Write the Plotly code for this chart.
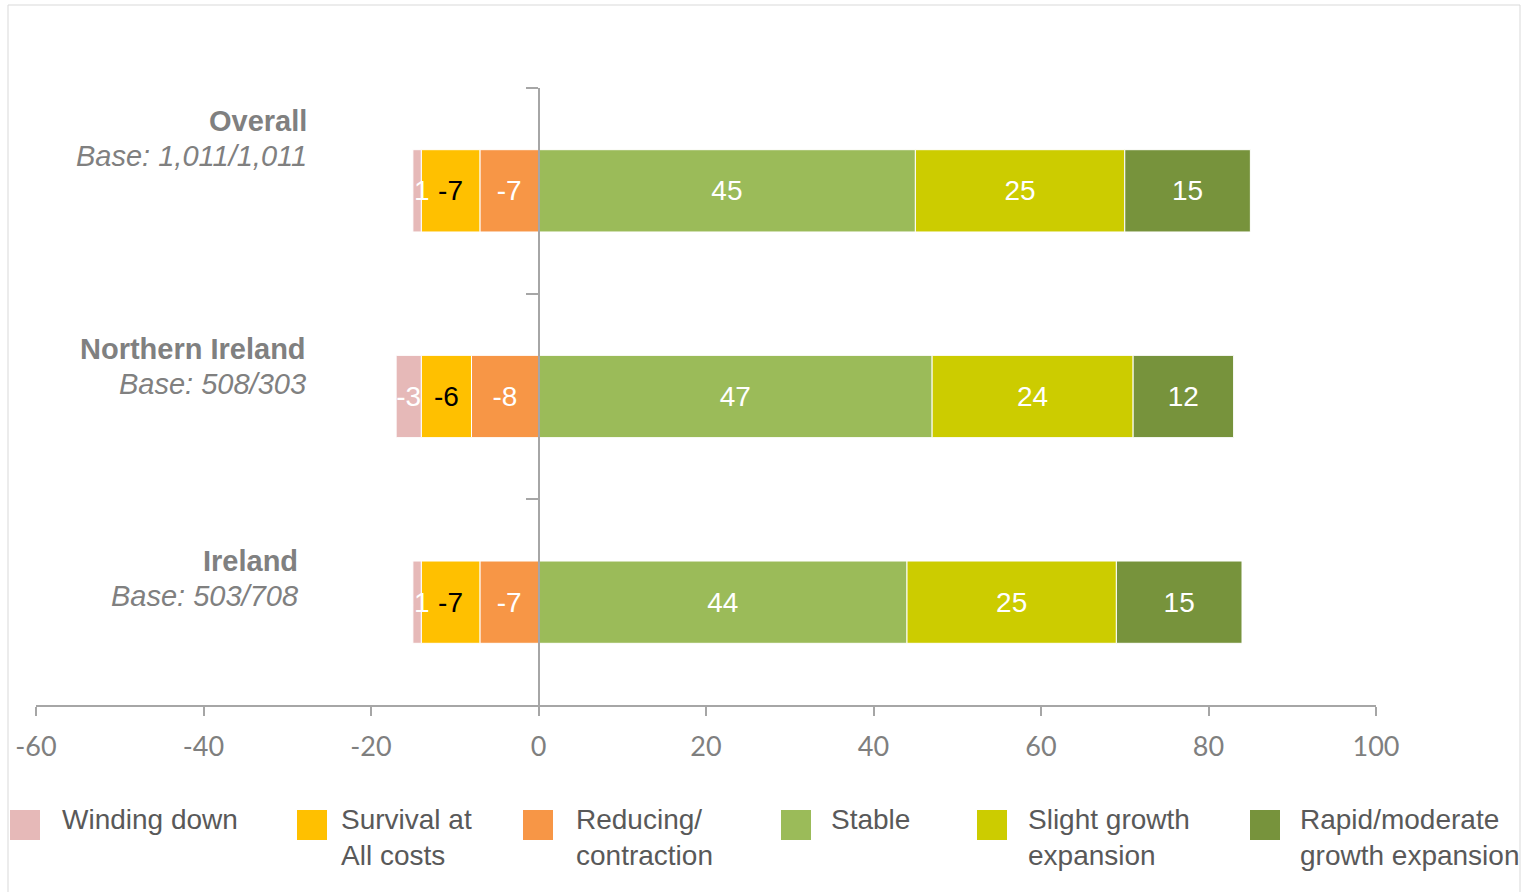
import plotly.graph_objects as go

# ---------------- data ----------------
categories = ["Overall", "Northern Ireland", "Ireland"]
bases = ["Base: 1,011/1,011", "Base: 508/303", "Base: 503/708"]

series_names = ["Winding down", "Survival at<br>All costs", "Reducing/<br>contraction",
                "Stable", "Slight growth<br>expansion", "Rapid/moderate<br>growth expansion"]
series_colors = ["#E6B9B8", "#FFC000", "#F79646", "#9BBB59", "#CCCC00", "#77933C"]
label_colors = ["white", "black", "white", "white", "white", "white"]

winding_down = [-1, -3, -1]
survival = [-7, -6, -7]
reducing = [-7, -8, -7]
stable = [45, 47, 44]
slight_growth = [25, 24, 25]
rapid_growth = [15, 12, 15]

series_values = [winding_down, survival, reducing, stable, slight_growth, rapid_growth]

x_ticks = [-60, -40, -20, 0, 20, 40, 60, 80, 100]

# ---------------- layout geometry (pixels) ----------------
W, H = 1521, 892
L, R, T, B = 36, 1376, 88, 705
PW, PH = R - L, B - T


def px_x(p):
    return (p - L) / PW


def px_y(p):
    return (B - p) / PH


fig = go.Figure()

# negatives stack outward from zero in trace order: reducing, survival, winding down
draw_order = [2, 1, 0, 3, 4, 5]
for i in draw_order:
    fig.add_trace(go.Bar(
        y=categories,
        x=series_values[i],
        orientation="h",
        name=series_names[i].replace("<br>", " "),
        marker=dict(color=series_colors[i], line=dict(color="white", width=1)),
        text=[str(v) for v in series_values[i]],
        textposition="inside",
        insidetextanchor="middle",
        constraintext="none",
        textfont=dict(family="Liberation Sans, Arial", size=28, color=label_colors[i]),
        showlegend=False,
        hoverinfo="x+y+name",
    ))

fig.update_layout(
    width=W, height=H,
    margin=dict(l=L, r=W - R, t=T, b=H - B, pad=0),
    barmode="relative",
    bargap=0.6,
    plot_bgcolor="white",
    paper_bgcolor="white",
    showlegend=False,
    xaxis=dict(
        range=[-60, 100],
        tickvals=x_ticks,
        ticktext=[str(v) for v in x_ticks],
        showgrid=False,
        zeroline=False,
        showline=True,
        linecolor="#A6A6A6",
        linewidth=2,
        ticks="outside",
        ticklen=9,
        tickwidth=2,
        tickcolor="#A6A6A6",
        tickfont=dict(family="Lato, Carlito, sans-serif", size=27, color="#7F7F7F"),
        ticklabelstandoff=8,
        fixedrange=True,
    ),
    yaxis=dict(
        categoryorder="array",
        categoryarray=categories,
        autorange="reversed",
        showgrid=False,
        zeroline=False,
        showline=True,
        linecolor="#A6A6A6",
        linewidth=2,
        anchor="free",
        position=(0 - (-60)) / (100 - (-60)),
        ticks="outside",
        tickson="boundaries",
        ticklen=12,
        tickwidth=2,
        tickcolor="#A6A6A6",
        showticklabels=False,
        fixedrange=True,
    ),
)

annotations = []
shapes = []

# category labels (name line and base line)
cat_title_center_y = [121, 349, 561]
cat_base_center_y = [156, 384, 596]
cat_label_right_x = [309, 308, 300]
for c, b, ty, by, rx in zip(categories, bases, cat_title_center_y, cat_base_center_y, cat_label_right_x):
    annotations.append(dict(
        xref="paper", yref="paper",
        x=px_x(rx), y=px_y(ty),
        xanchor="right", yanchor="middle", align="right",
        text=f"<b>{c}</b>",
        showarrow=False,
        font=dict(family="Liberation Sans, Arial", size=29, color="#808080"),
    ))
    annotations.append(dict(
        xref="paper", yref="paper",
        x=px_x(rx), y=px_y(by),
        xanchor="right", yanchor="middle", align="right",
        text=f"<i>{b}</i>",
        showarrow=False,
        font=dict(family="Liberation Sans, Arial", size=29, color="#808080"),
    ))

# legend (manual, large swatches)
leg_marker_left = [10, 297, 523, 781, 977, 1250]
leg_text_left = [60, 339, 574, 829, 1026, 1298]
leg_marker_top, leg_marker_size = 810, 30
leg_text_top = 802
for name, col, ml, tl in zip(series_names, series_colors, leg_marker_left, leg_text_left):
    shapes.append(dict(
        type="rect", xref="paper", yref="paper",
        x0=px_x(ml), x1=px_x(ml + leg_marker_size),
        y0=px_y(leg_marker_top), y1=px_y(leg_marker_top + leg_marker_size),
        fillcolor=col, line=dict(width=0), layer="above",
    ))
    annotations.append(dict(
        xref="paper", yref="paper",
        x=px_x(tl), y=px_y(leg_text_top),
        xanchor="left", yanchor="top", align="left",
        text=name, showarrow=False,
        font=dict(family="Liberation Sans, Arial", size=28, color="#595959"),
    ))

# outer chart border
shapes.append(dict(
    type="rect", xref="paper", yref="paper",
    x0=px_x(8), x1=px_x(1520), y0=px_y(5), y1=px_y(898),
    line=dict(color="#D9D9D9", width=1), fillcolor="rgba(0,0,0,0)", layer="below",
))

fig.update_layout(annotations=annotations, shapes=shapes)

fig.write_html("out.html")
